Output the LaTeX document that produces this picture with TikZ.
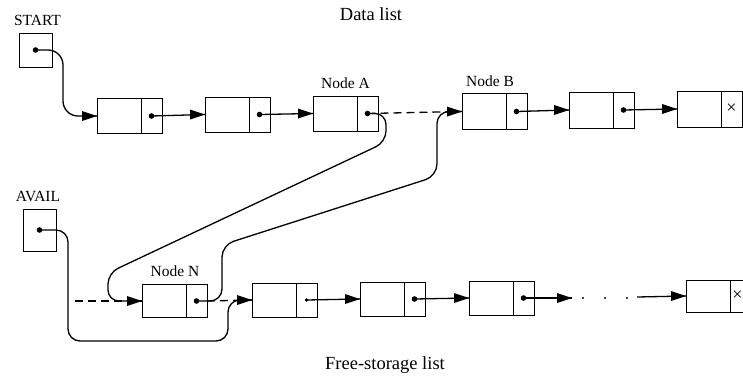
\documentclass[tikz,border=0pt]{standalone}
\usepackage{fontspec}
\setmainfont{Liberation Serif}

% one list node: information field (#1i) and link field (#1l)
\newcommand\lcell[5]{%
  \node[info, minimum height=#4] (#1i) at (#2,#3) {};
  \node[linkf, minimum height=#4, anchor=west] (#1l) at (#1i.east) {#5};
}
% solid arrowhead pointing right, its tip on the given point
\newcommand\headat[1]{\fill[headfill] (#1) -- ++(-15,-5) -- ++(0,10) -- cycle;}

\begin{document}
\begin{tikzpicture}[x=1pt, y=-1pt,
  info/.style={draw, line width=0.9pt, minimum width=44pt, inner sep=0pt, outer sep=0pt},
  linkf/.style={draw, line width=0.9pt, minimum width=21pt, inner sep=0pt, outer sep=0pt,
                font=\fontsize{18}{18}\selectfont},
  headbox/.style={draw, line width=0.9pt, minimum width=33pt, inner sep=0pt, outer sep=0pt},
  lbl/.style={anchor=base, inner sep=0pt, font=\fontsize{15.5}{18}\selectfont},
  title/.style={anchor=base, inner sep=0pt, font=\fontsize{18.5}{22}\selectfont},
  nilmark/.style={inner sep=0pt, font=\fontsize{18}{18}\selectfont},
  ptr/.style={line width=1.3pt},
  curve/.style={ptr, rounded corners=12pt},
  old/.style={line width=1.3pt, dash pattern=on 8pt off 5pt},
  headfill/.style={fill=black},
  dot/.style={fill=black}
]
\useasboundingbox (0,0) rectangle (743,375);

% titles and labels
\node[title] (tdata) at (371,20) {Data list};
\node[title] (tfree) at (385,369) {Free-storage list};
\node[lbl] (lstart) at (37.5,25) {START};
\node[lbl] (lavail) at (38,201) {AVAIL};
\node[lbl] (lnodea) at (345.5,88) {Node A};
\node[lbl] (lnodeb) at (490,86) {Node B};
\node[lbl] (lnoden) at (175,276) {Node N};

% list heads
\node[headbox, minimum height=34pt] (start) at (35.5,50) {};
\node[headbox, minimum height=42pt] (avail) at (39.5,230) {};

% data list
\lcell{d1}{119}{116}{35pt}{}
\lcell{d2}{227}{114.5}{35pt}{}
\lcell{a}{335}{113.5}{35pt}{}
\lcell{b}{484}{111.5}{36pt}{}
\lcell{d5}{591}{110}{36pt}{}
\lcell{d6}{699}{109}{36pt}{×}

% free-storage list (its last node runs off the right edge)
\lcell{n}{164}{301}{33pt}{}
\lcell{f2}{274}{300}{34pt}{}
\lcell{f3}{382}{299}{34pt}{}
\lcell{f4}{491}{298}{34pt}{}
\lcell{f5}{708}{296}{32pt}{}
\node[nilmark] (f5x) at (737.5,296) {×};

% pointer dots
\foreach \p in {start,avail}
  \fill[dot] (\p.center) circle[radius=2.8pt];
\foreach \p in {d1l,d2l,al,bl,d5l,nl,f3l,f4l}
  \fill[dot] (\p.center) circle[radius=2.8pt];
\fill[dot] (f2l.center) circle[radius=1.9pt];

% data list links
\draw[curve, rounded corners=15pt] (start.center) -| (63,116) -- (d1i.west);
\draw[ptr] (d1l.center) -- (d2i.west);
\draw[ptr] (d2l.center) -- (ai.west);
\draw[old] (al.center) -- (bi.west);
\draw[ptr] (bl.center) -- (d5i.west);
\draw[ptr] (d5l.center) -- (d6i.west);

% old links in the free-storage list
\coordinate (oldhead) at (75,301);
\draw[old] (oldhead) -- (ni.west);
\draw[old] (nl.east) -- (f2i.west);

% node N taken from the free-storage list and put between A and B
\draw[curve, rounded corners=11pt] (al.center) -- (386,113.5) -- (386,142) -- (108,273) |- (ni.west);
\draw[curve] (nl.center) -- (222,301) -- (222,245) -- (437,176) |- (bi.west);
\draw[curve] (avail.center) -| (68,341) -| (228,300) -- (f2i.west);

% rest of the free-storage list
\draw[ptr] (f2l.center) -- (f3i.west);
\draw[ptr] (f3l.center) -- (f4i.west);
\coordinate (gapstart) at (572,298);
\coordinate (gapend) at (637,297);
\draw[ptr] (f4l.center) -- (gapstart);
\foreach \x in {583,605,627}
  \fill[dot] (\x,298) circle[radius=1.2pt];
\draw[ptr] (gapend) -- (f5i.west);

% arrowheads
\foreach \h in {d1i.west,d2i.west,ai.west,bi.west,d5i.west,d6i.west,
                ni.west,f2i.west,f3i.west,f4i.west,gapstart,f5i.west}
  {\headat{\h}}
\end{tikzpicture}
\end{document}
